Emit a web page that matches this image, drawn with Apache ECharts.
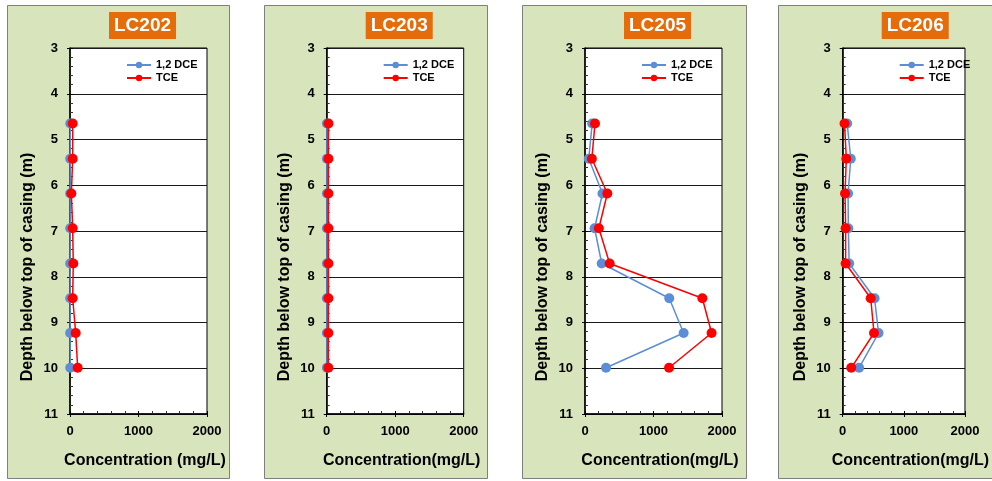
<!DOCTYPE html>
<html><head><meta charset="utf-8">
<script src="https://cdn.jsdelivr.net/npm/echarts@6/dist/echarts.min.js"></script>
<style>html,body{margin:0;padding:0;background:#fff}#c{width:992px;height:481px}</style>
</head><body><div id="c"></div>
<script>
// ---- data ----
const wells = ['LC202', 'LC203', 'LC205', 'LC206'];
const seriesNames = ['1,2 DCE', 'TCE'];
const xAxisTitles = ['Concentration (mg/L)', 'Concentration(mg/L)', 'Concentration(mg/L)', 'Concentration(mg/L)'];
const yAxisTitle = 'Depth below top of casing (m)';
const depths = [4.65, 5.42, 6.18, 6.94, 7.71, 8.47, 9.23, 9.99];
const dceLC202 = [4, 3, 2, 3, 2, 3, 2, 4];
const tceLC202 = [39, 39, 20, 39, 48, 39, 83, 112];
const dceLC203 = [3, 3, 3, 3, 3, 3, 3, 3];
const tceLC203 = [26, 25, 25, 25, 25, 25, 24, 24];
const dceLC205 = [105, 55, 255, 140, 244, 1230, 1440, 307];
const tceLC205 = [146, 100, 326, 202, 360, 1713, 1848, 1227];
const dceLC206 = [73, 132, 88, 92, 106, 521, 586, 268];
const tceLC206 = [30, 59, 38, 48, 48, 458, 512, 140];
const depthRange = [3, 11];
const concRange = [0, 2000];
const concTickStep = 1000;
const depthTickStep = 1;

const dceAll = [dceLC202, dceLC203, dceLC205, dceLC206];
const tceAll = [tceLC202, tceLC203, tceLC205, tceLC206];

// ---- layout ----
const panelLeft = [7.5, 264.5, 522.5, 778.5];
const panelWidth = [222, 223, 224, 224];
const plotLeft = [70, 326.7, 585, 842.7];
const plotTop = 48, plotH = 366, plotW = 137;
const BLUE = '#5B8ED6', RED = '#FF0000';
const FONT = 'Liberation Sans, Arial, sans-serif';

const grids = [], xAxes = [], yAxes = [], series = [], legends = [], titles = [], graphics = [];
wells.forEach((w, i) => {
  graphics.push({type: 'rect', z: -10, shape: {x: panelLeft[i], y: 5.5, width: panelWidth[i], height: 473},
    style: {fill: '#D8E4BC', stroke: '#7F7F7F', lineWidth: 1}});
  grids.push({left: plotLeft[i], top: plotTop, width: plotW, height: plotH, show: true,
    backgroundColor: '#fff', borderColor: '#000', borderWidth: 1});
  titles.push({text: w, left: plotLeft[i] + 39, top: 12, padding: [3, 5, 3, 5], backgroundColor: '#E46C0A',
    textStyle: {color: '#fff', fontSize: 19, fontWeight: 'bold', fontFamily: FONT, lineHeight: 21}});
  // main x axis
  xAxes.push({gridIndex: i, type: 'value', min: concRange[0], max: concRange[1], interval: concTickStep,
    position: 'bottom',
    axisLine: {show: true, lineStyle: {color: '#000', width: 1.5}},
    axisTick: {show: true, inside: true, length: 3, lineStyle: {color: '#000'}},
    minorTick: {show: true, splitNumber: 5, length: 3, lineStyle: {color: '#333'}},
    splitLine: {show: false},
    axisLabel: {color: '#000', fontSize: 13, fontWeight: 'bold', fontFamily: FONT, margin: 11,
      formatter: v => String(v)},
    name: xAxisTitles[i], nameLocation: 'middle', nameGap: 39,
    nameTextStyle: {color: '#000', fontSize: 16, fontWeight: 'bold', fontFamily: FONT, padding: [0, 0, 0, 13]}});
  // secondary x axis for outward major ticks
  xAxes.push({gridIndex: i, type: 'value', min: concRange[0], max: concRange[1], interval: concTickStep,
    position: 'bottom', axisLine: {show: false}, axisLabel: {show: false}, splitLine: {show: false},
    axisTick: {show: true, inside: false, length: 3, lineStyle: {color: '#000'}}});
  // main y axis
  yAxes.push({gridIndex: i, type: 'value', inverse: true, min: depthRange[0], max: depthRange[1], interval: depthTickStep,
    position: 'left',
    axisLine: {show: true, lineStyle: {color: '#000', width: 1.5}},
    axisTick: {show: true, inside: true, length: 3, lineStyle: {color: '#000'}},
    minorTick: {show: true, splitNumber: 5, length: 3, lineStyle: {color: '#333'}},
    splitLine: {show: true, lineStyle: {color: '#1a1a1a', width: 1}},
    axisLabel: {color: '#000', fontSize: 13, fontWeight: 'bold', fontFamily: FONT, margin: 12},
    name: yAxisTitle, nameLocation: 'middle', nameGap: 34, nameRotate: 90,
    nameTextStyle: {color: '#000', fontSize: 16, fontWeight: 'bold', fontFamily: FONT, padding: [0, 72, 0, 0]}});
  yAxes.push({gridIndex: i, type: 'value', inverse: true, min: depthRange[0], max: depthRange[1], interval: depthTickStep,
    position: 'left', axisLine: {show: false}, axisLabel: {show: false}, splitLine: {show: false},
    axisTick: {show: true, inside: false, length: 3, lineStyle: {color: '#000'}}});
  legends.push({data: seriesNames, orient: 'vertical', left: plotLeft[i] + 56, top: 59.5, padding: 0,
    itemWidth: 24, itemHeight: 8, itemGap: 2, selectedMode: false,
    textStyle: {color: '#000', fontSize: 11, fontWeight: 'bold', fontFamily: FONT}});
  [dceAll[i], tceAll[i]].forEach((vals, k) => {
    series.push({name: seriesNames[k], type: 'line', xAxisIndex: 2 * i, yAxisIndex: 2 * i,
      data: depths.map((d, j) => [vals[j], d]),
      symbol: 'circle', symbolSize: 10, showSymbol: true,
      itemStyle: {color: k === 0 ? BLUE : RED},
      lineStyle: {color: k === 0 ? BLUE : RED, width: 1.5}, z: 3 + k});
  });
});

const chart = echarts.init(document.getElementById('c'), null, {renderer: 'canvas'});
chart.setOption({
  animation: false,
  backgroundColor: '#fff',
  title: titles, grid: grids, xAxis: xAxes, yAxis: yAxes, legend: legends, series: series,
  graphic: {elements: graphics}
});
</script></body></html>
